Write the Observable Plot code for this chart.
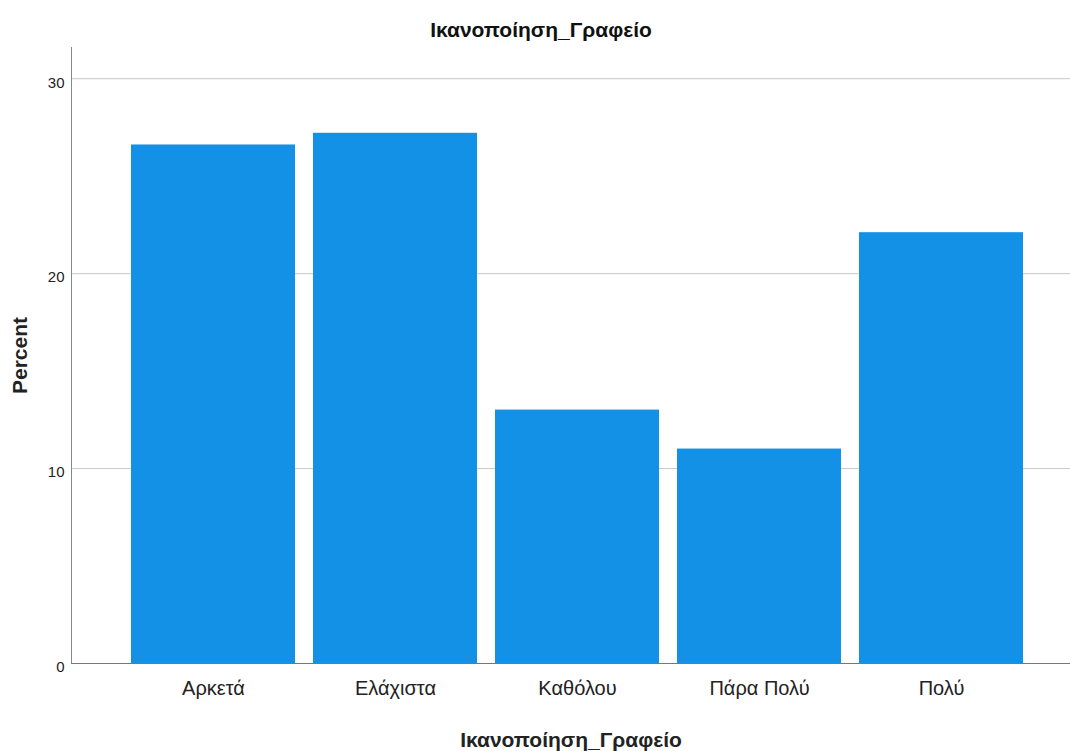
<!DOCTYPE html>
<html>
<head>
<meta charset="utf-8">
<script src="https://cdn.jsdelivr.net/npm/d3@7"></script>
<script src="https://cdn.jsdelivr.net/npm/@observablehq/plot@0.6"></script>
<style>
  html, body { margin: 0; padding: 0; background: #fff; }
  #wrap { position: relative; width: 1070px; height: 751px; }
  #title { position: absolute; top: 18px; left: 6px; width: 1070px; text-align: center; font-family: "Liberation Sans", Arial, sans-serif; font-weight: bold; font-size: 21px; line-height: 24px; color: #111; }
  svg [aria-label="y-axis label"] text, svg [aria-label="y-axis label"] { font-weight: bold; font-size: 21px; }
  svg [aria-label="x-axis label"] text, svg [aria-label="x-axis label"] { font-weight: bold; font-size: 21px; }
</style>
</head>
<body>
<div id="wrap">
<div id="chart"></div>
<div id="title">Ικανοποίηση_Γραφείο</div>
</div>
<script>
const categories = ["Αρκετά", "Ελάχιστα", "Καθόλου", "Πάρα Πολύ", "Πολύ"];
const percents = [26.6, 27.2, 13.0, 11.0, 22.1];
const yTicks = [0, 10, 20, 30];
const gridTicks = [10, 20, 30];

const data = categories.map((c, i) => ({category: c, percent: percents[i]}));

const chart = Plot.plot({
  width: 1070,
  height: 751,
  marginTop: 47,
  marginLeft: 71,
  marginRight: 0,
  marginBottom: 88,
  insetLeft: 51,
  insetRight: 38,
  style: {fontFamily: "'Liberation Sans', Arial, sans-serif", color: "#222", background: "#fff"},
  x: {domain: categories, paddingInner: 0.1, paddingOuter: 0.05},
  y: {domain: [0, 31.6]},
  marks: [
    Plot.ruleY(gridTicks, {stroke: "#c8c8c8", strokeWidth: 1}),
    Plot.barY(data, {x: "category", y: "percent", fill: "#1391e6"}),
    Plot.frame({anchor: "left", stroke: "#888"}),
    Plot.ruleY([0], {stroke: "#777", strokeWidth: 1}),
    Plot.axisY({ticks: yTicks, tickSize: 0, tickPadding: 7, fontSize: 15, dy: 4, label: "Percent", labelAnchor: "center", labelOffset: 59, labelArrow: "none"}),
    Plot.axisX({tickSize: 0, tickPadding: 17, fontSize: 20, label: "Ικανοποίηση_Γραφείο", labelAnchor: "center", labelOffset: 83, labelArrow: "none"})
  ]
});
document.getElementById("chart").appendChild(chart);
</script>
</body>
</html>
